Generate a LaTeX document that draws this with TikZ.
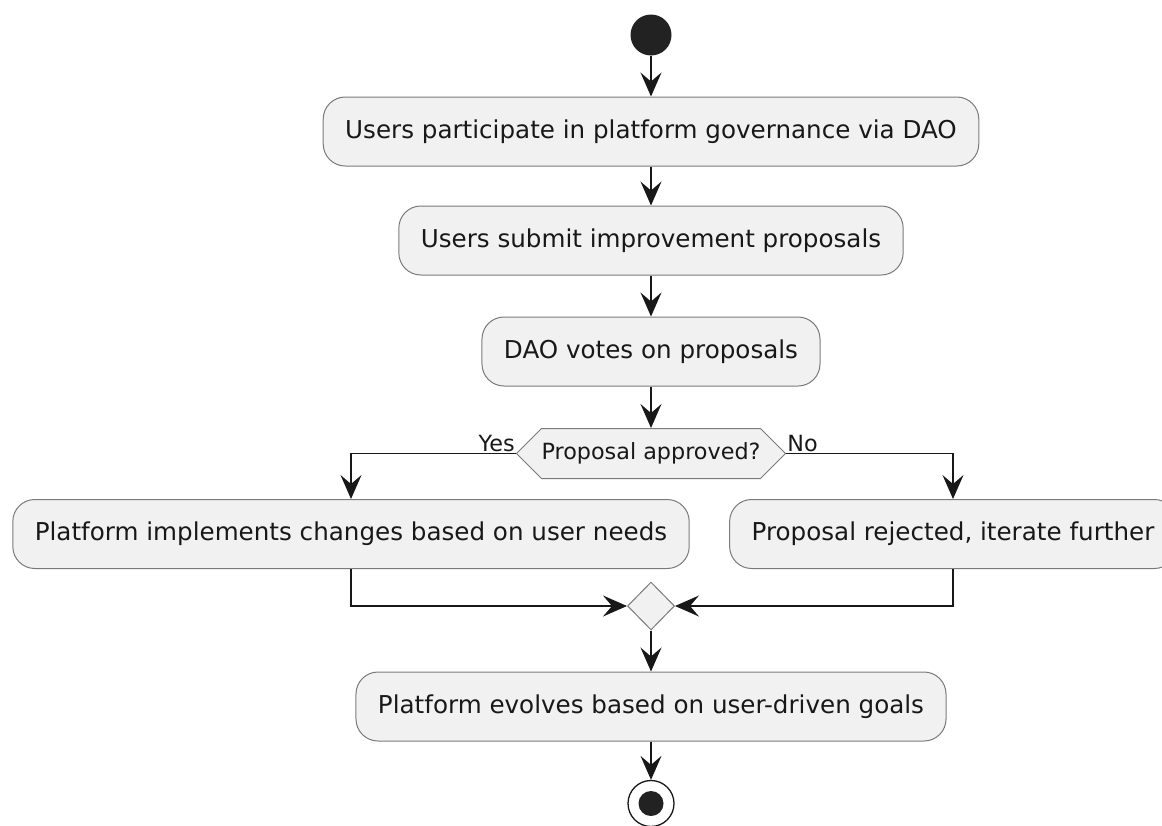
\documentclass[tikz,border=0pt]{standalone}
\usepackage{fontspec}
\setmainfont{DejaVu Sans}
\usepackage{tikz}
\usetikzlibrary{arrows.meta,shapes.geometric,shapes.symbols}
\definecolor{boxfill}{HTML}{F1F1F1}
\definecolor{linecol}{HTML}{181818}
\definecolor{edgecol}{HTML}{7A7A7A}
\definecolor{dotfill}{HTML}{222222}
\def\boxfont{\fontsize{24.6}{29}\selectfont}
\def\askfont{\fontsize{22.3}{26}\selectfont}
\tikzset{
	activity/.style={draw=edgecol, line width=1pt, fill=boxfill, rounded corners=22pt, inner xsep=22pt, inner ysep=0pt, minimum height=69pt, font=\boxfont, text=linecol},
	askbox/.style={shape=signal, signal to=west and east, signal pointer angle=90, draw=edgecol, line width=1pt, fill=boxfill, inner xsep=0pt, inner ysep=0pt, minimum height=50pt, font=\askfont, text=linecol},
	mergebox/.style={shape=diamond, draw=edgecol, line width=1pt, fill=boxfill, inner sep=0pt, minimum width=47pt, minimum height=48pt},
	flow/.style={draw=linecol, line width=1.5pt, -{Stealth[length=24pt,width=21pt,inset=9pt]}},
	branch/.style={font=\askfont, text=linecol, inner sep=1pt}
}

\begin{document}
\begin{tikzpicture}[x=1pt, y=-1pt]
			%%%%% START %%%%%
			\useasboundingbox (0, 0) rectangle (1162, 825);
			\clip (0, 0) rectangle (1162, 825);
			
			\node[circle, fill=dotfill, minimum size=41pt, inner sep=0pt] (start) at (651, 35) {};
			
			\node[activity] (participate) at (651, 131.5) {Users participate in platform governance via DAO};
			\node[activity] (submit) at (651, 240.5) {Users submit improvement proposals};
			\node[activity] (vote) at (651, 351.5) {DAO votes on proposals};
			
			\node[askbox] (approved) at (651, 453.5) {Proposal approved?};
			\node[branch, anchor=south east] (yes) at (approved.west) {Yes};
			\node[branch, anchor=south west] (no) at (approved.east) {No};
			
			\node[activity] (implement) at (351, 534) {Platform implements changes based on user needs};
			\node[activity] (reject) at (953, 534) {Proposal rejected, iterate further};
			
			\node[mergebox] (merge) at (651, 606) {};
			
			\node[activity] (evolve) at (651, 706.5) {Platform evolves based on user-driven goals};
			
			\node[circle, draw=linecol, line width=1.3pt, fill=white, minimum size=46pt, inner sep=0pt] (stop) at (651, 803.5) {};
			\node[circle, fill=dotfill, minimum size=25pt, inner sep=0pt] (stopdot) at (stop.center) {};
			
			\draw[flow] (start) -- (participate);
			\draw[flow] (participate) -- (submit);
			\draw[flow] (submit) -- (vote);
			\draw[flow] (vote.south) -- (vote.south |- approved.north);
			\draw[flow] (approved.west) -| (implement.north);
			\draw[flow] (approved.east) -| (reject.north);
			\draw[flow] (implement.south) |- (merge.west);
			\draw[flow] (reject.south) |- (merge.east);
			\draw[flow] (merge) -- (evolve);
			\draw[flow] (evolve) -- (stop);
			
			%%%%% END %%%%%
\end{tikzpicture}
\end{document}
